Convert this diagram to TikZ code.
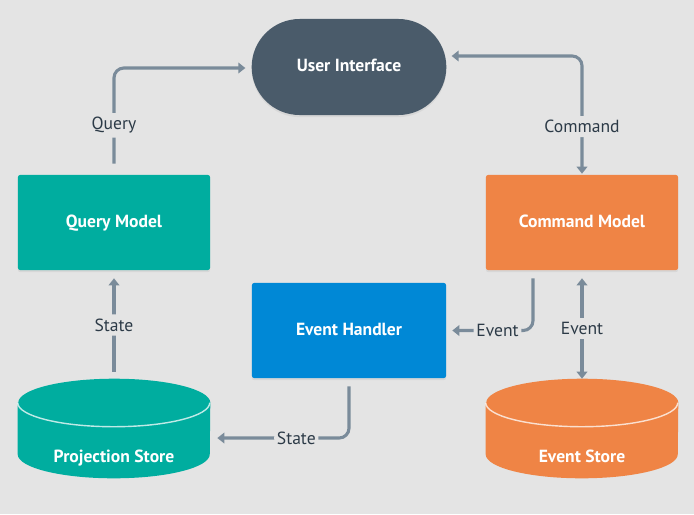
\documentclass[tikz,border=0pt]{standalone}
\usepackage{fontspec}
\setmainfont{PT Sans}
\usetikzlibrary{arrows.meta,shapes.misc,calc,shadows}

\definecolor{bg}{HTML}{E4E4E4}
\definecolor{uislate}{HTML}{4A5B6A}
\definecolor{qteal}{HTML}{00AD9F}
\definecolor{corange}{HTML}{EF8445}
\definecolor{hblue}{HTML}{0088D6}
\definecolor{linegray}{HTML}{7A8B9A}
\definecolor{lbltext}{HTML}{2C3A47}

\begin{document}
\begin{tikzpicture}[x=0.025cm,y=-0.025cm,
  >={Triangle[length=5pt,width=7.5pt]},
  title/.style={text=white,font=\bfseries\fontsize{12.5}{14}\selectfont,text height=0.7em,text depth=0pt},
  box/.style={title,rectangle,rounded corners=1.5pt,minimum width=4.8cm,minimum height=2.375cm,
    drop shadow={shadow xshift=0pt,shadow yshift=-1.5pt,opacity=0.12}},
  storebox/.style={rectangle,inner sep=0pt,minimum width=4.8cm,minimum height=2.475cm},
  conn/.style={draw=linegray,line width=2.2pt,rounded corners=7pt},
  lbl/.style={fill=bg,text=lbltext,font=\fontsize{12.5}{14}\selectfont,inner xsep=2pt,inner ysep=3pt}]

\fill[bg] (0,0) rectangle (694,514);

\node[title,rounded rectangle,fill=uislate,minimum width=5.1cm,minimum height=2.4cm,
  drop shadow={shadow xshift=0pt,shadow yshift=-1.5pt,opacity=0.12}] (ui) at (349,67) {User Interface};

\node[box,fill=qteal] (qmodel) at (114,222.5) {Query Model};
\node[box,fill=corange] (cmodel) at (582,222.5) {Command Model};
\node[box,fill=hblue,minimum width=4.85cm] (handler) at (349,330.5) {Event Handler};

% stores
\node[storebox] (pstore) at (114,428.5) {};
\node[storebox] (estore) at (582,428.5) {};

\fill[qteal] ($(pstore.north west)+(0,24)$) -- ($(pstore.south west)+(0,-24)$)
  arc[start angle=180,end angle=360,x radius=2.4cm,y radius=0.6cm]
  -- ($(pstore.north east)+(0,24)$)
  arc[start angle=0,end angle=180,x radius=2.4cm,y radius=0.6cm] -- cycle;
\draw[white,opacity=0.75,line width=1pt] ($(pstore.north west)+(0,24)$)
  arc[start angle=180,end angle=360,x radius=2.4cm,y radius=0.6cm];

\fill[corange] ($(estore.north west)+(0,24)$) -- ($(estore.south west)+(0,-24)$)
  arc[start angle=180,end angle=360,x radius=2.4cm,y radius=0.6cm]
  -- ($(estore.north east)+(0,24)$)
  arc[start angle=0,end angle=180,x radius=2.4cm,y radius=0.6cm] -- cycle;
\draw[white,opacity=0.75,line width=1pt] ($(estore.north west)+(0,24)$)
  arc[start angle=180,end angle=360,x radius=2.4cm,y radius=0.6cm];

\node[title] (pstorelbl) at ($(pstore)+(0,29)$) {Projection Store};
\node[title] (estorelbl) at ($(estore)+(0,29)$) {Event Store};

% connectors
\draw[conn,->] ($(qmodel.north)+(0,-11)$) |- node[lbl,pos=0.2] {Query} ($(ui.west)+(-6,1)$);
\draw[conn,<->] ($(ui.east)+(5,-11)$) -| node[lbl,pos=0.8] {Command} ($(cmodel.north)+(0,-1)$);
\draw[conn,->] ($(pstore.north)+(0,-7)$) -- node[lbl] {State} ($(qmodel.south)+(0,8)$);
\draw[conn,<->] ($(cmodel.south)+(0,8)$) -- node[lbl] {Event} (estore.north);
\draw[conn,->] ($(cmodel.south)+(-49,8)$) |- node[lbl,pos=0.72] {Event} ($(handler.east)+(6,0)$);
\draw[conn,->] ($(handler.south)+(0,8)$) |- node[lbl,pos=0.7] {State} ($(pstore.east)+(7,9.5)$);
\end{tikzpicture}
\end{document}
